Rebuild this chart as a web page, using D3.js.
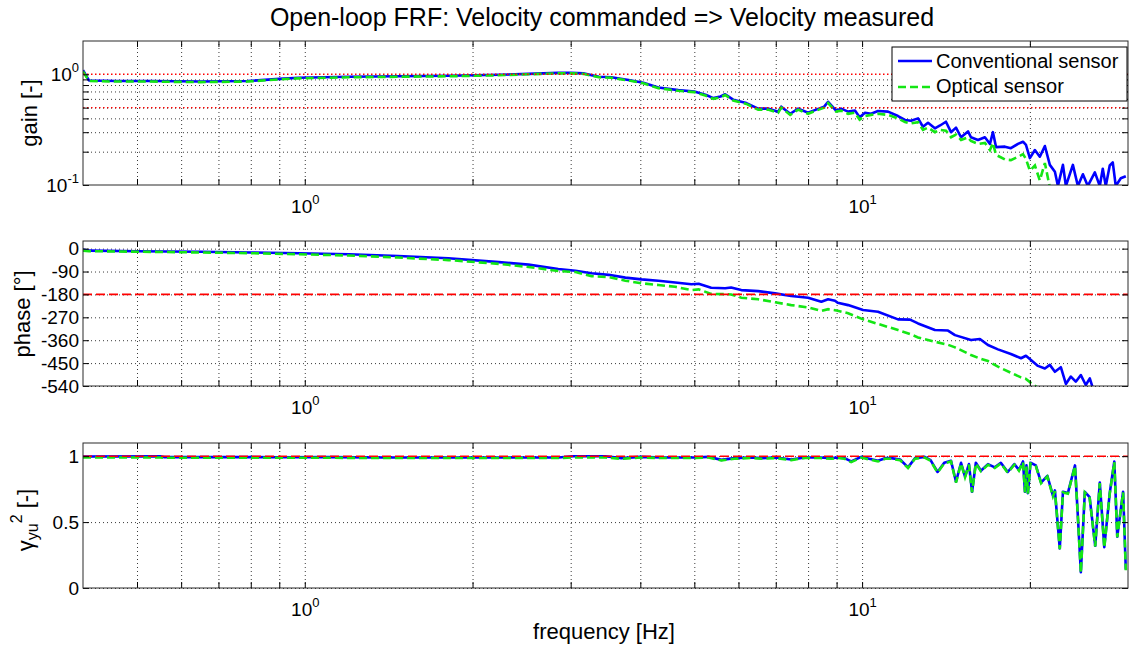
<!DOCTYPE html>
<html><head><meta charset="utf-8">
<script src="https://cdn.jsdelivr.net/npm/d3@7"></script>
<style>
body{margin:0;background:#fff;}
svg text{font-family:"Liberation Sans",Arial,Helvetica,sans-serif;fill:#000;}
</style>
</head><body>
<svg id="chart" width="1129" height="646"></svg>
<script>
// ---------------- text ----------------
const TITLE = "Open-loop FRF: Velocity commanded => Velocity measured";
const X_LABEL = "frequency [Hz]";
const GAIN_LABEL = "gain [-]";
const PHASE_LABEL = "phase [°]";
const LEGEND_LABELS = ["Conventional sensor", "Optical sensor"];

// ---------------- ticks ----------------
const X_TICKS_MAJOR = [1, 10];
const X_TICKS_MINOR = [0.5, 0.6, 0.7, 0.8, 0.9, 2, 3, 4, 5, 6, 7, 8, 9, 20];
const GAIN_TICKS_MAJOR = [0.1, 1];
const GAIN_TICKS_MINOR = [0.2, 0.3, 0.4, 0.5, 0.6, 0.7, 0.8, 0.9];
const PHASE_TICKS = [0, -90, -180, -270, -360, -450, -540];
const COH_TICKS = [0, 0.5, 1];
const GAIN_REF = [1, 0.5];
const PHASE_REF = [-180];
const COH_REF = [1];

// ---------------- data: gain ----------------
const freqGain = [
  0.4, 0.41, 0.46, 0.53, 0.65, 0.79, 0.9, 0.975, 1.2, 1.47,
  1.81, 2.23, 2.52, 2.85, 3.0, 3.16, 3.37, 3.55, 3.81, 4.05,
  4.31, 4.68, 5.0, 5.25, 5.41, 5.57, 5.68, 5.87, 6.2, 6.51,
  6.78, 7.07, 7.16, 7.43, 7.68, 8.0, 8.27, 8.55, 8.69, 8.98,
  9.17, 9.44, 9.71, 9.9, 10.12, 10.38, 10.68, 11.13, 11.6, 11.94,
  12.24, 12.6, 12.86, 13.13, 13.51, 13.8, 14.14, 14.44, 14.74, 15.05,
  15.49, 15.68, 16.14, 16.61, 16.96, 17.17, 17.39, 18.04, 18.49, 19.04,
  19.44, 19.68, 20.0, 20.42, 20.84, 21.28, 21.72, 22.18, 22.46, 22.93,
  23.21, 23.89, 24.39, 24.9, 25.41, 26.16, 26.7, 27.03, 27.37, 27.82,
  28.17, 28.52, 29.12, 29.73
];
const gainConventional = [
  1.09, 0.88, 0.87, 0.87, 0.86, 0.87, 0.91, 0.93, 0.95, 0.96,
  0.97, 0.99, 1.01, 1.03, 1.03, 1.02, 0.95, 0.94, 0.89, 0.84,
  0.76, 0.72, 0.70, 0.65, 0.61, 0.63, 0.66, 0.59, 0.55, 0.49,
  0.49, 0.46, 0.51, 0.44, 0.49, 0.45, 0.48, 0.51, 0.565, 0.47,
  0.49, 0.46, 0.47, 0.41, 0.45, 0.44, 0.466, 0.46, 0.42, 0.387,
  0.38, 0.40, 0.336, 0.365, 0.325, 0.345, 0.373, 0.30, 0.33, 0.27,
  0.305, 0.27, 0.255, 0.27, 0.235, 0.30, 0.22, 0.222, 0.215, 0.235,
  0.246, 0.23, 0.175, 0.207, 0.18, 0.225, 0.152, 0.132, 0.098, 0.152,
  0.098, 0.152, 0.098, 0.125, 0.098, 0.13, 0.098, 0.14, 0.098, 0.15,
  0.16, 0.098, 0.115, 0.12
];
const gainOptical = [
  1.06, 0.87, 0.86, 0.86, 0.85, 0.86, 0.90, 0.92, 0.94, 0.95,
  0.96, 0.98, 1.00, 1.02, 1.02, 1.01, 0.94, 0.93, 0.88, 0.83,
  0.75, 0.71, 0.69, 0.64, 0.60, 0.62, 0.65, 0.58, 0.54, 0.48,
  0.48, 0.45, 0.50, 0.43, 0.48, 0.44, 0.47, 0.50, 0.55, 0.46,
  0.47, 0.44, 0.45, 0.39, 0.42, 0.43, 0.44, 0.43, 0.40, 0.37,
  0.36, 0.37, 0.315, 0.33, 0.30, 0.315, 0.31, 0.27, 0.285, 0.255,
  0.27, 0.25, 0.235, 0.24, 0.207, 0.24, 0.187, 0.17, 0.168, 0.18,
  0.19, 0.172, 0.135, 0.15, 0.11, 0.158, 0.095, 0.085
];

// ---------------- data: phase (deg) ----------------
const freqPhase = [
  0.4, 0.41, 0.5, 0.65, 0.8, 0.975, 1.2, 1.47, 1.81, 2.23,
  2.52, 2.85, 3.06, 3.27, 3.51, 3.76, 4.02, 4.31, 4.62, 4.94,
  5.09, 5.36, 5.68, 5.82, 6.07, 6.51, 6.98, 7.46, 8.0, 8.45,
  8.69, 8.94, 9.04, 9.44, 10.04, 10.68, 11.6, 12.19, 12.6, 13.51,
  14.26, 14.68, 15.68, 16.27, 16.82, 17.53, 18.49, 19.28, 19.68, 20.09,
  20.68, 21.28, 21.72, 22.18, 22.73, 23.21, 23.69, 24.18, 24.69, 25.2,
  25.62, 25.94, 27.0
];
const phaseConventional = [
  -4, -8, -10, -12, -15, -18, -22, -29, -38, -53,
  -63, -80, -87, -97, -103, -114, -121, -126, -133, -140,
  -138, -154, -156, -153, -163, -167, -176, -186, -193, -209,
  -199, -205, -213, -222, -241, -248, -278, -279, -294, -320,
  -322, -340, -359, -355, -379, -396, -414, -431, -421, -438,
  -461, -471, -457, -484, -466, -532, -503, -523, -497, -536,
  -510, -548, -575
];
const phaseOptical = [
  -8, -10, -12, -15, -18, -22, -27, -35, -45, -60,
  -72, -88, -92, -108, -112, -126, -136, -143, -150, -163,
  -160, -178, -179, -180, -193, -199, -211, -222, -231, -245,
  -238, -242, -244, -254, -278, -296, -320, -336, -349, -366,
  -378, -388, -418, -432, -442, -464, -488, -506, -512, -528,
  -548, -560
];

// ---------------- data: coherence ----------------
const freqCoh = [
  0.4, 0.55, 0.56, 0.75, 0.9, 1.1, 1.4, 1.7, 2.0, 2.5,
  2.85, 3.03, 3.46, 3.7, 4.0, 4.4, 5.0, 5.3, 5.59, 5.9,
  6.3, 6.6, 7.0, 7.46, 7.9, 8.4, 8.8, 9.04, 9.3, 9.56,
  9.96, 10.3, 10.68, 11.0, 11.27, 11.7, 12.09, 12.44, 12.95, 13.27,
  13.66, 14.04, 14.44, 14.74, 15.05, 15.3, 15.55, 15.75, 16.0, 16.34,
  16.82, 17.3, 17.74, 18.25, 18.76, 19.12, 19.44, 19.6, 19.72, 19.84,
  20.05, 20.5, 20.95, 21.5, 22.0, 22.18, 22.63, 22.93, 23.4, 24.1,
  24.39, 24.69, 25.1, 25.6, 26.2, 26.7, 27.2, 27.82, 28.35, 28.7,
  29.4, 29.73
];
const cohConventional = [
  0.998, 1.0, 0.993, 0.993, 0.992, 0.993, 0.99, 0.99, 0.99, 0.99,
  0.99, 1.0, 1.0, 0.985, 0.995, 0.99, 0.99, 0.995, 0.972, 0.985,
  0.99, 0.985, 0.99, 0.975, 0.99, 0.99, 0.985, 0.99, 0.985, 0.96,
  0.995, 0.98, 0.965, 0.985, 0.985, 0.975, 0.915, 0.985, 0.995, 0.97,
  0.88, 0.95, 0.965, 0.806, 0.95, 0.845, 0.94, 0.73, 0.95, 0.89,
  0.94, 0.915, 0.95, 0.88, 0.94, 0.895, 0.96, 0.73, 0.93, 0.72,
  0.95, 0.93, 0.80, 0.85, 0.70, 0.74, 0.30, 0.73, 0.72, 0.93,
  0.54, 0.12, 0.73, 0.69, 0.32, 0.80, 0.31, 0.72, 0.96, 0.39,
  0.73, 0.14
];
const cohOptical = [
  0.99, 0.99, 0.988, 0.988, 0.988, 0.988, 0.986, 0.986, 0.986, 0.986,
  0.986, 0.99, 0.99, 0.98, 0.99, 0.986, 0.986, 0.99, 0.968, 0.98,
  0.986, 0.98, 0.986, 0.97, 0.986, 0.986, 0.98, 0.986, 0.98, 0.955,
  0.99, 0.975, 0.96, 0.98, 0.98, 0.97, 0.91, 0.98, 0.99, 0.965,
  0.875, 0.945, 0.96, 0.80, 0.945, 0.84, 0.935, 0.725, 0.945, 0.885,
  0.935, 0.91, 0.945, 0.875, 0.935, 0.89, 0.955, 0.725, 0.925, 0.715,
  0.945, 0.925, 0.795, 0.845, 0.695, 0.735, 0.295, 0.725, 0.715, 0.925,
  0.535, 0.115, 0.725, 0.685, 0.315, 0.795, 0.305, 0.715, 0.955, 0.385,
  0.725, 0.135
];

// ---------------- layout ----------------
const FONT = '"Liberation Sans", Arial, Helvetica, sans-serif';
const L = 83, R = 1128;
const P_GAIN = {top: 41, bottom: 185};
const P_PHASE = {top: 241, bottom: 386};
const P_COH = {top: 443, bottom: 588};
const BLUE = "#0000ff", GREEN = "#14e614", RED = "#ff0000", GRID = "#3a3a3a";

const svg = d3.select("#chart");
const x = d3.scaleLog().domain([0.4, 30]).range([L, R]);
const yGain = d3.scaleLog().domain([0.1, 2]).range([P_GAIN.bottom, P_GAIN.top]);
const yPhase = d3.scaleLinear().domain([-540, 30]).range([P_PHASE.bottom, P_PHASE.top]);
const yCoh = d3.scaleLinear().domain([0, 1.1]).range([P_COH.bottom, P_COH.top]);

const zip = (fs, vs) => vs.map((v, i) => [fs[i], v]);

function supLabel(sel, exp) {
  sel.text(null);
  sel.append("tspan").text("10");
  sel.append("tspan").attr("dy", -9).attr("font-size", 13).text(exp);
}

function panel(p, y, opts, id) {
  const g = svg.append("g");
  const h = p.bottom - p.top;
  const allX = X_TICKS_MAJOR.concat(X_TICKS_MINOR);
  g.append("clipPath").attr("id", id).append("rect")
    .attr("x", L).attr("y", p.top).attr("width", R - L).attr("height", h);

  // grid
  g.append("g").attr("transform", `translate(0,${p.bottom})`)
    .call(d3.axisBottom(x).tickValues(allX).tickSize(-h).tickFormat(""))
    .call(s => { s.select(".domain").remove();
      s.selectAll("line").attr("stroke", GRID).attr("stroke-dasharray", "1,3"); });
  g.append("g").attr("transform", `translate(${L},0)`)
    .call(d3.axisLeft(y).tickValues(opts.gridY).tickSize(-(R - L)).tickFormat(""))
    .call(s => { s.select(".domain").remove();
      s.selectAll("line").attr("stroke", GRID).attr("stroke-dasharray", "1,3"); });

  // data
  const line = d3.line().x(d => x(d[0])).y(d => y(d[1]));
  const dg = g.append("g").attr("clip-path", `url(#${id})`);
  dg.append("path").datum(opts.s1).attr("d", line).attr("fill", "none")
    .attr("stroke", BLUE).attr("stroke-width", 2.6).attr("stroke-linejoin", "round");
  dg.append("path").datum(opts.s2).attr("d", line).attr("fill", "none")
    .attr("stroke", GREEN).attr("stroke-width", 2.6).attr("stroke-dasharray", "8,4");
  opts.refs.forEach(r => {
    dg.append("line").attr("x1", L).attr("x2", R).attr("y1", y(r)).attr("y2", y(r))
      .attr("stroke", RED).attr("stroke-width", opts.refDot ? 1.4 : 1.6)
      .attr("stroke-dasharray", opts.refDot ? "1.5,2.5" : "9,4");
  });

  // axes (ticks point inward)
  const tick = 6;
  const ax = g.append("g").attr("transform", `translate(0,${p.bottom})`)
    .call(d3.axisBottom(x).tickValues(allX).tickSize(-tick).tickSizeOuter(0)
      .tickFormat(d => X_TICKS_MAJOR.includes(d) ? "10" : ""))
    .attr("font-size", 19).attr("font-family", FONT);
  ax.select(".domain").remove();
  ax.selectAll(".tick text").attr("y", 28).attr("dy", null)
    .each(function(d) { if (X_TICKS_MAJOR.includes(d)) supLabel(d3.select(this), String(Math.round(Math.log10(d)))); });
  const axT = g.append("g").attr("transform", `translate(0,${p.top})`)
    .call(d3.axisTop(x).tickValues(allX).tickSize(-tick).tickSizeOuter(0).tickFormat(""));
  axT.select(".domain").remove();

  const ay = g.append("g").attr("transform", `translate(${L},0)`)
    .call(d3.axisLeft(y).tickValues(opts.ticksY).tickSize(-tick).tickSizeOuter(0).tickFormat(opts.fmt))
    .attr("font-size", 19).attr("font-family", FONT);
  ay.select(".domain").remove();
  ay.selectAll(".tick text").attr("x", -4);
  if (opts.logLabels) {
    ay.selectAll(".tick text").each(function(d) {
      if (GAIN_TICKS_MAJOR.includes(d)) supLabel(d3.select(this), String(Math.round(Math.log10(d))));
    });
  }
  const ayR = g.append("g").attr("transform", `translate(${R},0)`)
    .call(d3.axisRight(y).tickValues(opts.ticksY).tickSize(-tick).tickSizeOuter(0).tickFormat(""));
  ayR.select(".domain").remove();

  // box
  g.append("rect").attr("x", L).attr("y", p.top).attr("width", R - L).attr("height", h)
    .attr("fill", "none").attr("stroke", "#2a2a2a").attr("stroke-width", 1);
  return g;
}

panel(P_GAIN, yGain, {
  gridY: GAIN_TICKS_MINOR,
  ticksY: GAIN_TICKS_MAJOR.concat(GAIN_TICKS_MINOR),
  fmt: d => GAIN_TICKS_MAJOR.includes(d) ? "10" : "",
  logLabels: true,
  s1: zip(freqGain, gainConventional), s2: zip(freqGain, gainOptical),
  refs: GAIN_REF, refDot: true
}, "clipGain");

panel(P_PHASE, yPhase, {
  gridY: PHASE_TICKS, ticksY: PHASE_TICKS, fmt: d => String(d),
  s1: zip(freqPhase, phaseConventional), s2: zip(freqPhase, phaseOptical),
  refs: PHASE_REF, refDot: false
}, "clipPhase");

panel(P_COH, yCoh, {
  gridY: COH_TICKS, ticksY: COH_TICKS, fmt: d => String(d),
  s1: zip(freqCoh, cohConventional), s2: zip(freqCoh, cohOptical),
  refs: COH_REF, refDot: false
}, "clipCoh");

// ---------------- legend ----------------
const lg = svg.append("g");
lg.append("rect").attr("x", 892).attr("y", 47).attr("width", 235).attr("height", 54)
  .attr("fill", "#fff").attr("stroke", "#000").attr("stroke-width", 1);
[[BLUE, null, 61, 68], [GREEN, "8,4", 87, 93]].forEach((e, i) => {
  lg.append("line").attr("x1", 898).attr("x2", 932).attr("y1", e[2]).attr("y2", e[2])
    .attr("stroke", e[0]).attr("stroke-width", 2.6).attr("stroke-dasharray", e[1]);
  lg.append("text").attr("x", 936).attr("y", e[3]).attr("font-size", 20).text(LEGEND_LABELS[i]);
});

// ---------------- titles & labels ----------------
svg.append("text").attr("x", 602).attr("y", 26).attr("text-anchor", "middle")
  .attr("font-size", 25).text(TITLE);
svg.append("text").attr("x", 604).attr("y", 639).attr("text-anchor", "middle")
  .attr("font-size", 22).text(X_LABEL);
svg.append("text").attr("transform", "translate(37,113) rotate(-90)").attr("text-anchor", "middle")
  .attr("font-size", 22).text(GAIN_LABEL);
svg.append("text").attr("transform", "translate(30,314) rotate(-90)").attr("text-anchor", "middle")
  .attr("font-size", 22).text(PHASE_LABEL);
const cl = svg.append("text").attr("transform", "translate(33,520) rotate(-90)").attr("text-anchor", "middle")
  .attr("font-size", 22);
cl.append("tspan").text("γ");
cl.append("tspan").attr("dy", 5).attr("font-size", 16).text("yu");
cl.append("tspan").attr("dy", -16).attr("font-size", 16).text("2");
cl.append("tspan").attr("dy", 11).text(" [-]");
</script>
</body></html>
